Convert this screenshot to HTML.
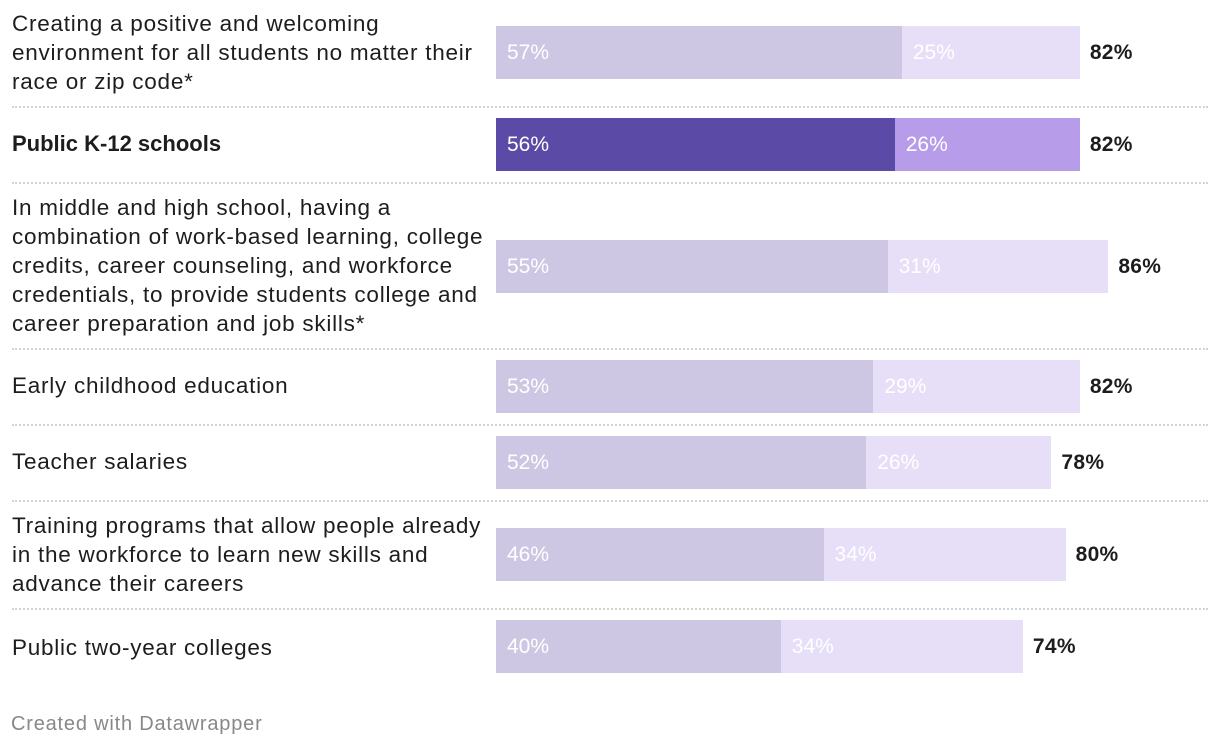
<!DOCTYPE html>
<html><head><meta charset="utf-8">
<style>
body{margin:0;width:1220px;height:752px;background:#fff;font-family:"Liberation Sans",sans-serif;position:relative;overflow:hidden}
.lbl{position:absolute;left:12px;width:490px;font-size:22.5px;line-height:29px;color:#1d1d1d;white-space:pre;letter-spacing:0.75px}
.sep{position:absolute;left:12px;width:1196px;border-top:2px dotted #d4d4d4;height:0}
.bar{position:absolute;height:53px}
.bt{position:absolute;font-size:21px;color:#fff;line-height:53px}
.tot{position:absolute;font-size:21px;font-weight:bold;color:#1d1d1d;line-height:53px;letter-spacing:0.3px}
.foot{position:absolute;left:11px;top:713px;font-size:20px;color:#888;letter-spacing:0.8px}
</style></head><body>
<div class="foot">Created with Datawrapper</div>
<script>
const categories=["Creating a positive and welcoming\nenvironment for all students no matter their\nrace or zip code*","Public K-12 schools","In middle and high school, having a\ncombination of work-based learning, college\ncredits, career counseling, and workforce\ncredentials, to provide students college and\ncareer preparation and job skills*","Early childhood education","Teacher salaries","Training programs that allow people already\nin the workforce to learn new skills and\nadvance their careers","Public two-year colleges"];
const strongly=[57,56,55,53,52,46,40];
const somewhat=[25,26,31,29,26,34,34];
const totals=[82,82,86,82,78,80,74];
const highlight=[false,true,false,false,false,false,false];
const barTops=[26,118,240,360,436,528,620];
const labelTops=[9,129,193,371,447,511,633];
const seps=[106,182,348,424,500,608];
const x0=496,ppu=7.12;
const xs=v=>x0+v*ppu;
const b=document.body;
seps.forEach(y=>{const d=document.createElement('div');d.className='sep';d.style.top=y+'px';

b.appendChild(d);});
categories.forEach((c,i)=>{
 const l=document.createElement('div');l.className='lbl';l.style.top=labelTops[i]+'px';l.textContent=c;
 if(highlight[i]){l.style.fontWeight='bold';l.style.letterSpacing='0px';l.style.fontSize='22px';}
 
 b.appendChild(l);
 const y=barTops[i];
 const s1=document.createElement('div');s1.className='bar';s1.style.cssText+=`left:${x0}px;top:${y}px;width:${xs(strongly[i])-x0}px;background:${highlight[i]?'#5c4ba6':'#cdc7e4'}`;
 
 b.appendChild(s1);
 const s2=document.createElement('div');s2.className='bar';s2.style.cssText+=`left:${xs(strongly[i])}px;top:${y}px;width:${xs(totals[i])-xs(strongly[i])}px;background:${highlight[i]?'#b79cea':'#e7dff7'}`;
 
 b.appendChild(s2);
 const t1=document.createElement('div');t1.className='bt';t1.style.left=(x0+11)+'px';t1.style.top=y+'px';t1.textContent=strongly[i]+'%';
 
 b.appendChild(t1);
 const t2=document.createElement('div');t2.className='bt';t2.style.left=(xs(strongly[i])+11)+'px';t2.style.top=y+'px';t2.textContent=somewhat[i]+'%';
 
 b.appendChild(t2);
 const t3=document.createElement('div');t3.className='tot';t3.style.left=(xs(totals[i])+10)+'px';t3.style.top=y+'px';t3.textContent=totals[i]+'%';
 
 b.appendChild(t3);
});
</script>
</body></html>
